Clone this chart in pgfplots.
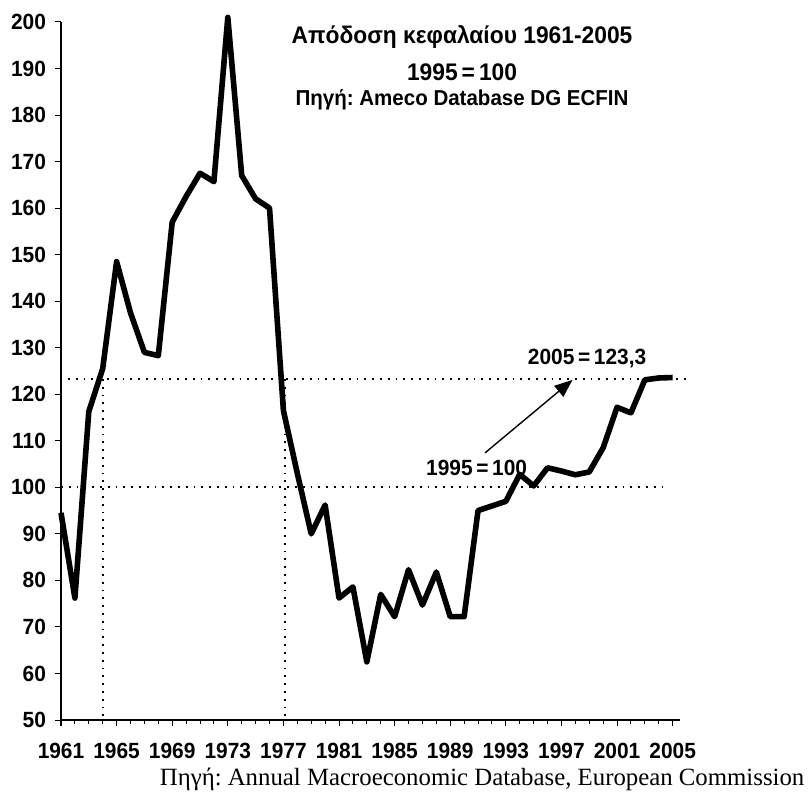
\documentclass[border=0pt]{standalone}
\usepackage{fontspec}
\usepackage{pgfplots}
\pgfplotsset{compat=1.18}
\usetikzlibrary{arrows.meta}
\setmainfont{Liberation Serif}
\newfontfamily\cond[FakeStretch=0.95]{Liberation Sans}
\frenchspacing
\begin{document}
\begin{tikzpicture}
\begin{axis}[
  at={(0,0)}, anchor=south west,
  scale only axis, width=309.3pt, height=349pt,
  xmin=1961, xmax=2005.5, ymin=50, ymax=200,
  axis x line*=bottom, axis y line*=left,
  axis line style={line width=0.6pt, black},
  xtick={1961,1965,...,2005},
  minor x tick num=3,
  ytick={50,60,...,200},
  tick align=outside,
  major tick length=3pt, minor tick length=2pt,
  tick style={black, line width=0.5pt},
  every tick label/.append style={font=\cond\bfseries\fontsize{11}{12}\selectfont},
  /pgf/number format/assume math mode=true,
  /pgf/number format/1000 sep={},
  xticklabel style={yshift=-5pt},
  yticklabel style={xshift=-1pt},
  clip=false,
]
% reference dotted lines
\addplot[black, line width=0.9pt, dash pattern=on 0.9pt off 3pt] coordinates {(1961.5,123.3) (2006.25,123.3)};
\addplot[black, line width=0.9pt, dash pattern=on 0.9pt off 3pt] coordinates {(1961,100) (2004.7,100)};
\addplot[black, line width=0.9pt, dash pattern=on 0.9pt off 3pt] coordinates {(1964,123.3) (1964,50)};
\addplot[black, line width=0.9pt, dash pattern=on 0.9pt off 3pt] coordinates {(1977.1,123.3) (1977.1,50)};
% data
\addplot[black, line width=2.8pt, line join=round] coordinates {
(1961,94.5) (1962,76.2) (1963,116.3) (1964,125.5) (1965,148.5) (1966,137.5)
(1967,129) (1968,128.3) (1969,157) (1970,162.5) (1971,167.5) (1972,165.7)
(1973,201) (1974,167) (1975,162) (1976,160) (1977,116.5) (1978,103)
(1979,90) (1980,96.2) (1981,76.2) (1982,78.6) (1983,62.5) (1984,77)
(1985,72.2) (1986,82.3) (1987,74.7) (1988,81.8) (1989,72.2) (1990,72.2)
(1991,95) (1992,96) (1993,97) (1994,102.8) (1995,100.3) (1996,104.2)
(1997,103.5) (1998,102.7) (1999,103.3) (2000,108.5) (2001,117.2) (2002,116)
(2003,123.1) (2004,123.5) (2005,123.6)
};
\draw[line width=0.7pt, -{Triangle[length=9pt,width=7pt]}] (axis cs:1991.5,107.4) -- (axis cs:1997.8,123.1);
\node[font=\cond\bfseries\fontsize{11}{12}\selectfont] at (axis cs:1998.85,127.6) {2005\,=\,123,3};
\node[font=\cond\bfseries\fontsize{11}{12}\selectfont] at (axis cs:1990.9,104.2) {1995\,=\,100};
\node[font=\cond\bfseries\fontsize{12}{13}\selectfont] at (axis cs:1989.85,196.7) {Απόδοση κεφαλαίου 1961-2005};
\node[font=\cond\bfseries\fontsize{12}{13}\selectfont] at (axis cs:1989.85,189.1) {1995\,=\,100};
\node[font=\cond\bfseries\fontsize{10.8}{11}\selectfont] at (axis cs:1989.85,183.3) {Πηγή: Ameco Database DG ECFIN};
\node[anchor=east, inner sep=0pt, font=\fontsize{12.4}{13}\selectfont] at (axis cs:2014.5,37.3) {Πηγή: Annual Macroeconomic Database, European Commission};
\end{axis}
\pgfresetboundingbox
\path (-30.5pt,-38.5pt) rectangle (373.5pt,360pt);
\end{tikzpicture}
\end{document}
